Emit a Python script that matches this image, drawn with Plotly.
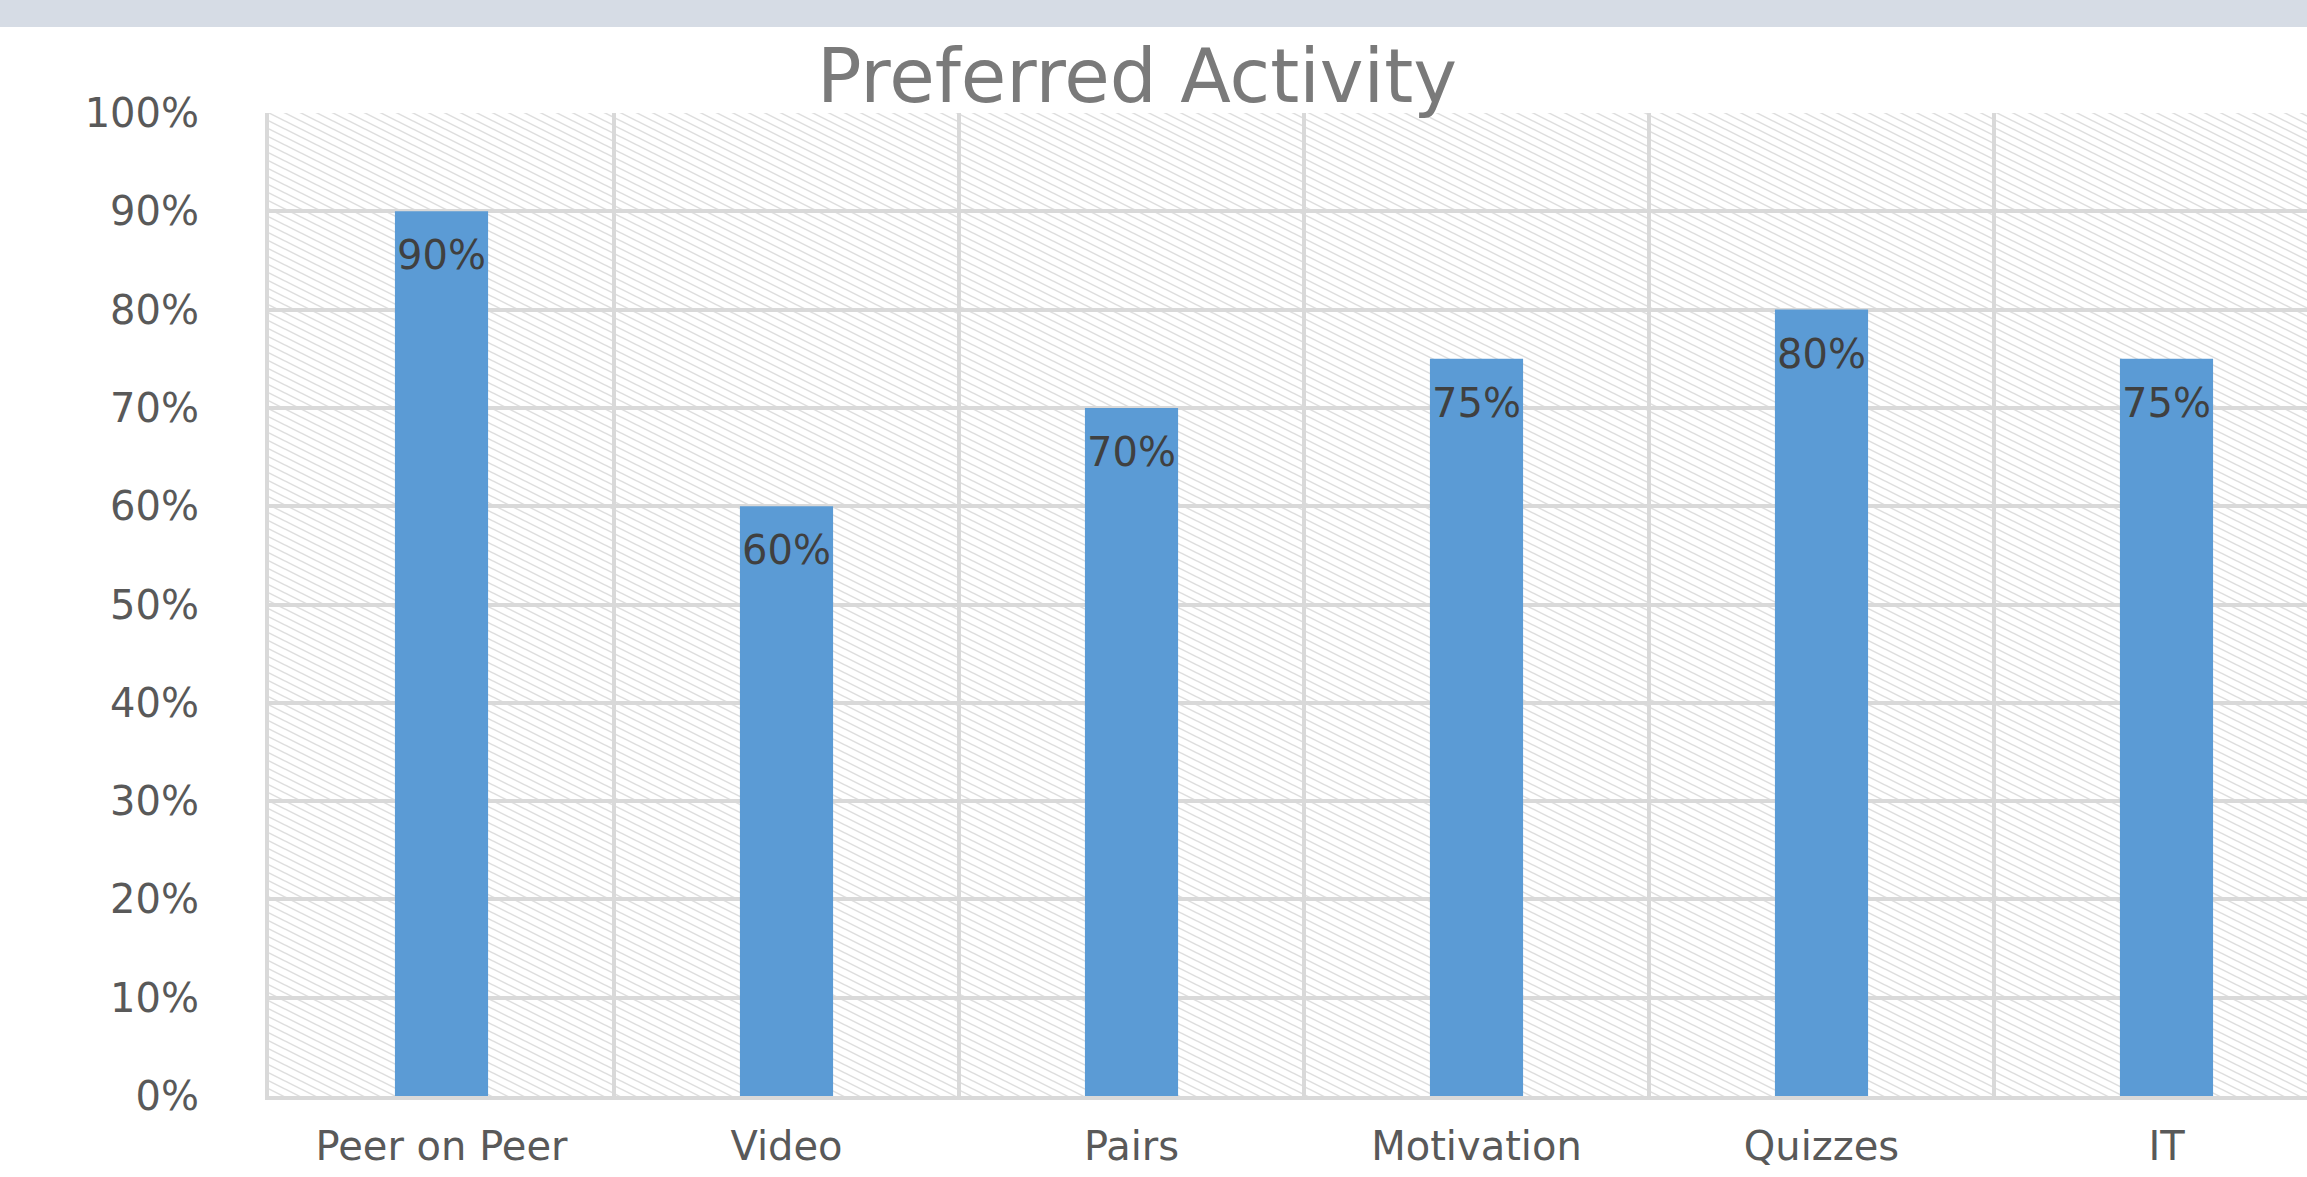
import base64
import plotly.graph_objects as go

categories = ["Peer on Peer", "Video", "Pairs", "Motivation", "Quizzes", "IT"]
values = [0.90, 0.60, 0.70, 0.75, 0.80, 0.75]
title_text = "Preferred Activity"

W, H = 2307, 1177
ML, MT, MB = 269, 113, 81
cat_px = 345.0
plot_w = W - ML
plot_h = H - MT - MB
x_hi = -0.5 + plot_w / cat_px

grid_c = "#d9d9d9"
txt_c = "#595959"
font_f = "DejaVu Sans"

# hatched plot-area background (decoration) as an SVG pattern
svg = (
    f'<svg xmlns="http://www.w3.org/2000/svg" width="{plot_w}" height="{plot_h}" '
    f'viewBox="0 0 {plot_w} {plot_h}" preserveAspectRatio="none">'
    '<defs><pattern id="h" width="16" height="8" patternUnits="userSpaceOnUse">'
    '<rect width="16" height="8" fill="white"/>'
    '<path d="M-16,-8 L32,16 M-16,0 L16,16 M0,-8 L32,8" stroke="#dedede" '
    'stroke-width="1.5"/>'
    '</pattern></defs>'
    f'<rect width="{plot_w}" height="{plot_h}" fill="url(#h)"/></svg>'
)
svg_uri = "data:image/svg+xml;base64," + base64.b64encode(svg.encode()).decode()

fig = go.Figure()

fig.add_trace(go.Bar(
    x=categories, y=values, width=0.27,
    marker=dict(color="#5b9bd5", line=dict(width=0)),
    showlegend=False,
))

for c, v in zip(categories, values):
    fig.add_annotation(x=c, y=v, text=f"{v:.0%}", showarrow=False,
                       yanchor="middle", yshift=-44,
                       font=dict(family=font_f, size=40, color="#404040"))

fig.add_layout_image(source=svg_uri, xref="x domain", yref="y domain",
                     x=0, y=1, sizex=1, sizey=1, xanchor="left", yanchor="top",
                     sizing="stretch", layer="below")

fig.add_shape(type="rect", xref="paper", yref="paper",
              x0=-ML / plot_w, x1=1.0, y0=(H - MB - 27) / plot_h,
              y1=(H - MB) / plot_h + 0.01,
              fillcolor="#d6dce5", line=dict(width=0), layer="above")

fig.update_layout(
    width=W, height=H,
    margin=dict(l=ML, r=0, t=MT, b=MB),
    paper_bgcolor="white", plot_bgcolor="rgba(0,0,0,0)",
    title=dict(text=title_text, x=(1137 - ML) / plot_w, xref="paper",
               xanchor="center", y=1 - 76 / H, yanchor="middle",
               font=dict(family=font_f, size=74, color="#7a7a7a")),
    xaxis=dict(type="category", range=[-0.5, x_hi], tickson="boundaries",
               showgrid=True, gridcolor=grid_c, gridwidth=4,
               showline=True, linecolor=grid_c, linewidth=4,
               ticks="", tickfont=dict(family=font_f, size=40, color=txt_c),
               ticklabelstandoff=12, fixedrange=True),
    yaxis=dict(range=[0, 1], dtick=0.1, tickformat=".0%",
               showgrid=True, gridcolor=grid_c, gridwidth=4,
               showline=True, linecolor=grid_c, linewidth=4,
               zeroline=False, ticks="",
               tickfont=dict(family=font_f, size=40, color=txt_c),
               ticklabelstandoff=58, fixedrange=True),
)

fig.write_html("out.html", config={"displayModeBar": False})
